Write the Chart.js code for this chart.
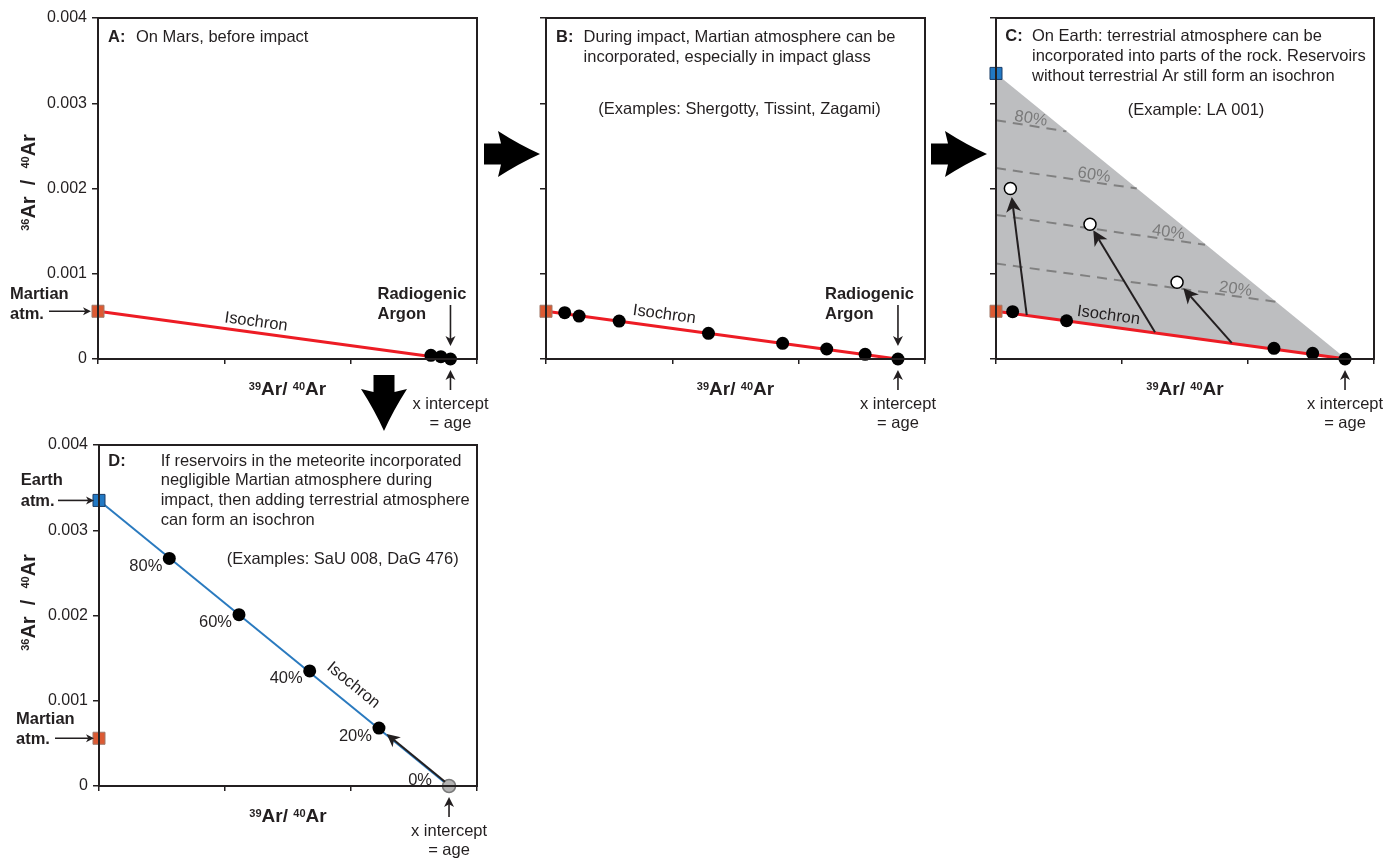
<!DOCTYPE html>
<html>
<head>
<meta charset="utf-8">
<title>Ar isochron panels</title>
<script src="https://cdn.jsdelivr.net/npm/chart.js@4.4.1/dist/chart.umd.min.js"></script>
<style>
  html, body { margin: 0; padding: 0; background: #fff; }
  #page { position: relative; width: 1400px; height: 860px; }
  #page canvas { position: absolute; left: 0; top: 0; }
</style>
</head>
<body>
<div id="page">
  <canvas id="panelA" width="1400" height="860"></canvas>
  <canvas id="panelB" width="1400" height="860"></canvas>
  <canvas id="panelC" width="1400" height="860"></canvas>
  <canvas id="panelD" width="1400" height="860"></canvas>
</div>
<script>
// values (x = 39Ar/40Ar in arbitrary units, y = 36Ar/40Ar)
const yTicks = [0, 0.001, 0.002, 0.003, 0.004];
const xTicks = [0, 1, 2, 3];
const martianAtm = [0, 0.00056];
const earthAtm = [0, 0.00335];
const ageIntercept = [2.78, 0];

const ptsA_x = [2.635, 2.714, 2.79];
const ptsA_y = [0.000043, 0.000027, 0];

const ptsB_x = [0.148, 0.262, 0.579, 1.286, 1.873, 2.222, 2.526, 2.786];
const ptsB_y = [0.000543, 0.000504, 0.000445, 0.000301, 0.000184, 0.000117, 0.000055, 0];

const ptsC_x = [0.132, 0.56, 2.206, 2.513, 2.77];
const ptsC_y = [0.000555, 0.000449, 0.000125, 0.000067, 0];
const openC_x = [0.114, 0.746, 1.437];
const openC_y = [0.0020, 0.00158, 0.0009];
const shiftC_x0 = [0.244, 1.262, 1.871];
const shiftC_y0 = [0.000516, 0.000313, 0.00019];
const shiftC_x1 = [0.125, 0.772, 1.487];
const shiftC_y1 = [0.0019, 0.00151, 0.00083];

const mixLabels = ['80%', '60%', '40%', '20%'];
const mixLeftY = [0.00280, 0.00224, 0.00169, 0.00112];
const mixRightX = [0.558, 1.117, 1.659, 2.228];
const mixRightY = [0.00267, 0.00200, 0.00134, 0.00067];

const ptsD_x = [0.558, 1.111, 1.672, 2.222];
const ptsD_y = [0.00267, 0.00201, 0.00135, 0.00068];
const pctD = ['80%', '60%', '40%', '20%'];
const zeroD = [2.778, 0];
const shiftD_x = [2.746, 2.283];
const shiftD_y = [0.00005, 0.00061];

// ---- styling / helpers ----
const INK = '#231f20';
const RED = '#ed1c24';
const BLUE = '#2a7abf';
const MARS = '#dc5a33';
const EARTH = '#2279c4';
const FONT = '"Liberation Sans", Arial, Helvetica, sans-serif';
Chart.defaults.font.family = FONT;
Chart.defaults.color = INK;

const pt = (x, y) => ({ x, y });
const xy = (xs, ys) => xs.map((x, i) => pt(x, ys[i]));

function axes(showY) {
  const tickGrid = len => ({ display: true, drawOnChartArea: false, drawTicks: true, tickLength: len, color: INK, lineWidth: 1.5 });
  return {
    x: {
      type: 'linear', min: xTicks[0], max: xTicks[xTicks.length - 1],
      ticks: { stepSize: xTicks[1] - xTicks[0], display: false },
      grid: tickGrid(5), border: { display: true, color: INK, width: 2 },
      afterFit: s => { s.height = 20; }
    },
    y: {
      type: 'linear', min: yTicks[0], max: yTicks[yTicks.length - 1],
      ticks: {
        stepSize: yTicks[1] - yTicks[0], display: showY, padding: 5, color: INK, font: { size: 16 },
        callback: v => v === 0 ? '0' : v.toFixed(3)
      },
      grid: tickGrid(6), border: { display: true, color: INK, width: 2 },
      afterFit: s => { s.width = 60; }
    }
  };
}

function lineDs(p0, p1, color, width, dash) {
  return { data: [pt(p0[0], p0[1]), pt(p1[0], p1[1])], borderColor: color, borderWidth: width,
           borderDash: dash || [], pointRadius: 0, fill: false, tension: 0, clip: false };
}
function dotDs(xs, ys, fill, stroke, r, bw) {
  return { data: xy(xs, ys), showLine: false, pointRadius: r, pointBackgroundColor: fill,
           pointBorderColor: stroke, pointBorderWidth: bw, clip: false };
}
function squareDs(p, fill, stroke) {
  return { data: [pt(p[0], p[1])], showLine: false, pointStyle: 'rect', pointRadius: 8.5,
           pointBackgroundColor: fill, pointBorderColor: stroke, pointBorderWidth: 1, clip: false };
}

function label(ctx, s, x, y, o = {}) {
  ctx.save();
  ctx.font = (o.bold ? 'bold ' : '') + (o.size || 16.5) + 'px ' + FONT;
  ctx.fillStyle = o.color || INK;
  ctx.textAlign = o.align || 'left';
  ctx.textBaseline = 'middle';
  ctx.translate(x, y);
  if (o.rot) ctx.rotate(o.rot);
  ctx.fillText(s, 0, 0);
  ctx.restore();
}
function lines(ctx, arr, x, y, step, o) {
  arr.forEach((s, i) => label(ctx, s, x, y + i * step, o));
}
function arrow(ctx, x0, y0, x1, y1, head, lw) {
  const a = Math.atan2(y1 - y0, x1 - x0);
  ctx.save();
  ctx.strokeStyle = INK; ctx.fillStyle = INK; ctx.lineWidth = lw;
  ctx.beginPath();
  ctx.moveTo(x0, y0);
  ctx.lineTo(x1 - Math.cos(a) * head * 0.7, y1 - Math.sin(a) * head * 0.7);
  ctx.stroke();
  ctx.translate(x1, y1); ctx.rotate(a);
  ctx.beginPath();
  ctx.moveTo(0, 0); ctx.lineTo(-head, -head * 0.5); ctx.lineTo(-head * 0.72, 0); ctx.lineTo(-head, head * 0.5);
  ctx.closePath(); ctx.fill();
  ctx.restore();
}
function bigArrow(ctx, x, y, ang) {
  ctx.save();
  ctx.translate(x, y); ctx.rotate(ang);
  ctx.fillStyle = '#000';
  ctx.beginPath();
  ctx.moveTo(0, 0);
  ctx.quadraticCurveTo(-21, -9.5, -42, -23);
  ctx.lineTo(-39, -10.5);
  ctx.lineTo(-56, -10.5);
  ctx.lineTo(-56, 10.5);
  ctx.lineTo(-39, 10.5);
  ctx.lineTo(-42, 23);
  ctx.quadraticCurveTo(-21, 9.5, 0, 0);
  ctx.fill();
  ctx.restore();
}
function frame(ctx, a) {
  ctx.save();
  ctx.strokeStyle = INK; ctx.lineWidth = 2;
  ctx.strokeRect(a.left, a.top, a.right - a.left, a.bottom - a.top);
  ctx.restore();
}
function supText(ctx, parts, x, y, big, small, rise) {
  const f = p => 'bold ' + (p[1] ? small : big) + 'px ' + FONT;
  let w = 0;
  parts.forEach(p => { ctx.font = f(p); w += ctx.measureText(p[0]).width; });
  let cx = x - w / 2;
  ctx.textAlign = 'left'; ctx.textBaseline = 'alphabetic'; ctx.fillStyle = INK;
  parts.forEach(p => {
    ctx.font = f(p);
    ctx.fillText(p[0], cx, p[1] ? y - rise : y);
    cx += ctx.measureText(p[0]).width;
  });
}
function xTitle(ctx, a) {
  ctx.save();
  supText(ctx, [['39', 1], ['Ar', 0], ['/ ', 0], ['40', 1], ['Ar', 0]], (a.left + a.right) / 2, a.bottom + 36, 19, 11, 5.5);
  ctx.restore();
}
function yTitle(ctx, a, dy) {
  ctx.save();
  ctx.translate(35, (a.top + a.bottom) / 2 + dy);
  ctx.rotate(-Math.PI / 2);
  supText(ctx, [['36', 1], ['Ar', 0], ['  /  ', 0], ['40', 1], ['Ar', 0]], 0, 0, 20, 11, 6);
  ctx.restore();
}
function scalers(c) {
  return [v => c.scales.x.getPixelForValue(v), v => c.scales.y.getPixelForValue(v)];
}
function alongLabel(ctx, c, p0, p1, f, off, s, o) {
  const [X, Y] = scalers(c);
  const x0 = X(p0[0]), y0 = Y(p0[1]), x1 = X(p1[0]), y1 = Y(p1[1]);
  const a = Math.atan2(y1 - y0, x1 - x0);
  label(ctx, s, x0 + (x1 - x0) * f + Math.sin(a) * off, y0 + (y1 - y0) * f - Math.cos(a) * off,
        Object.assign({ align: 'center', rot: a }, o || {}));
}
function radiogenicNote(ctx, x, b) {
  lines(ctx, ['Radiogenic', 'Argon'], x - 73, b - 65, 20, { bold: true });
  arrow(ctx, x, b - 54, x, b - 13, 10, 1.6);
}
function interceptNote(ctx, x, b) {
  arrow(ctx, x, b + 31, x, b + 11, 10, 1.6);
  lines(ctx, ['x intercept', '= age'], x, b + 45, 19.5, { align: 'center' });
}

function panel(id, area, showY, datasets, deco) {
  return new Chart(document.getElementById(id), {
    type: 'line',
    data: { datasets },
    options: {
      responsive: false, animation: false, events: [],
      layout: { padding: { left: area.l - 60, top: area.t, right: 1400 - area.r, bottom: 860 - area.b - 20 } },
      plugins: { legend: { display: false }, tooltip: { enabled: false } },
      scales: axes(showY)
    },
    plugins: [{ id: 'deco_' + id, afterDraw: c => deco(c, c.ctx) }]
  });
}

// ---- panel A ----
panel('panelA', { l: 98, t: 18, r: 477, b: 359 }, true, [
  dotDs(ptsA_x, ptsA_y, '#000', '#000', 6.5, 0),
  squareDs(martianAtm, MARS, '#a07868'),
  lineDs(martianAtm, ageIntercept, RED, 3)
], (c, ctx) => {
  const a = c.chartArea, [X, Y] = scalers(c);
  frame(ctx, a); xTitle(ctx, a); yTitle(ctx, a, -6);
  label(ctx, 'A:', a.left + 10, a.top + 19, { bold: true });
  label(ctx, 'On Mars, before impact', a.left + 38, a.top + 19);
  alongLabel(ctx, c, martianAtm, ageIntercept, 0.446, 10.7, 'Isochron');
  const ym = Y(martianAtm[1]);
  lines(ctx, ['Martian', 'atm.'], 10, ym - 17, 20, { bold: true });
  arrow(ctx, 49, ym, a.left - 7, ym, 8, 1.6);
  radiogenicNote(ctx, X(ptsA_x[2]), a.bottom);
  interceptNote(ctx, X(ptsA_x[2]), a.bottom);
  bigArrow(ctx, 540, 154, 0);
  bigArrow(ctx, 987, 154, 0);
  bigArrow(ctx, 384, 431, Math.PI / 2);
});

// ---- panel B ----
panel('panelB', { l: 546, t: 18, r: 925, b: 359 }, false, [
  dotDs(ptsB_x, ptsB_y, '#000', '#000', 6.5, 0),
  squareDs(martianAtm, MARS, '#a07868'),
  lineDs(martianAtm, ageIntercept, RED, 3)
], (c, ctx) => {
  const a = c.chartArea, [X] = scalers(c);
  frame(ctx, a); xTitle(ctx, a);
  label(ctx, 'B:', a.left + 10, a.top + 19.7, { bold: true });
  lines(ctx, ['During impact, Martian atmosphere can be', 'incorporated, especially in impact glass'],
        a.left + 37.6, a.top + 19.7, 20);
  label(ctx, '(Examples: Shergotty, Tissint, Zagami)', (a.left + a.right) / 2 + 4, a.top + 91.5, { align: 'center' });
  alongLabel(ctx, c, martianAtm, ageIntercept, 0.332, 12.7, 'Isochron');
  radiogenicNote(ctx, X(ptsB_x[7]), a.bottom);
  interceptNote(ctx, X(ptsB_x[7]), a.bottom);
});

// ---- panel C ----
const mixSets = mixLabels.map((s, i) =>
  lineDs([0, mixLeftY[i]], [mixRightX[i], mixRightY[i]], '#808080', 2, [10, 7]));
panel('panelC', { l: 996, t: 18, r: 1374, b: 359 }, false, [
  dotDs(openC_x, openC_y, '#fff', '#000', 6, 1.5),
  dotDs(ptsC_x, ptsC_y, '#000', '#000', 6.5, 0),
  squareDs(earthAtm, EARTH, '#1b3d66'),
  squareDs(martianAtm, MARS, '#a07868'),
  lineDs(martianAtm, ageIntercept, RED, 3),
  ...mixSets,
  { data: [martianAtm, earthAtm, ageIntercept, martianAtm].map(p => pt(p[0], p[1])),
    fill: 'shape', backgroundColor: '#bdbec0', borderColor: 'rgba(0,0,0,0)', borderWidth: 0, pointRadius: 0, tension: 0 }
], (c, ctx) => {
  const a = c.chartArea, [X, Y] = scalers(c);
  frame(ctx, a); xTitle(ctx, a);
  label(ctx, 'C:', a.left + 9.3, a.top + 18.5, { bold: true });
  lines(ctx, ['On Earth: terrestrial atmosphere can be', 'incorporated into parts of the rock. Reservoirs',
              'without terrestrial Ar still form an isochron'], a.left + 36, a.top + 18.5, 20.2);
  label(ctx, '(Example: LA 001)', (a.left + a.right) / 2 + 11, a.top + 92.5, { align: 'center' });
  const frac = [0.48, 0.69, 0.82, 0.85];
  mixLabels.forEach((s, i) =>
    alongLabel(ctx, c, [0, mixLeftY[i]], [mixRightX[i], mixRightY[i]], frac[i], 7, s, { color: '#7a7a7a' }));
  shiftC_x0.forEach((x0, i) =>
    arrow(ctx, X(x0), Y(shiftC_y0[i]), X(shiftC_x1[i]), Y(shiftC_y1[i]), 15, 2));
  alongLabel(ctx, c, martianAtm, ageIntercept, 0.317, 11, 'Isochron');
  interceptNote(ctx, X(ptsC_x[4]), a.bottom);
});

// ---- panel D ----
panel('panelD', { l: 99, t: 445, r: 477, b: 786 }, true, [
  dotDs(ptsD_x, ptsD_y, '#000', '#000', 6.5, 0),
  dotDs([zeroD[0]], [zeroD[1]], '#b4b4b4', '#7a7a7a', 6.5, 1.5),
  squareDs(earthAtm, EARTH, '#1b3d66'),
  squareDs(martianAtm, MARS, '#a07868'),
  lineDs(earthAtm, zeroD, BLUE, 2)
], (c, ctx) => {
  const a = c.chartArea, [X, Y] = scalers(c);
  frame(ctx, a); xTitle(ctx, a); yTitle(ctx, a, -13);
  label(ctx, 'D:', a.left + 9.3, a.top + 16, { bold: true });
  lines(ctx, ['If reservoirs in the meteorite incorporated', 'negligible Martian atmosphere during',
              'impact, then adding terrestrial atmosphere', 'can form an isochron'], a.left + 61.7, a.top + 16, 19.9);
  label(ctx, '(Examples: SaU 008, DaG 476)', (a.left + a.right) / 2 + 54.7, a.top + 114.3, { align: 'center' });
  pctD.forEach((s, i) => label(ctx, s, X(ptsD_x[i]) - 7, Y(ptsD_y[i]) + 8, { align: 'right' }));
  label(ctx, '0%', X(zeroD[0]) - 17, Y(zeroD[1]) - 6, { align: 'right' });
  arrow(ctx, X(shiftD_x[0]), Y(shiftD_y[0]), X(shiftD_x[1]), Y(shiftD_y[1]), 13, 2);
  alongLabel(ctx, c, earthAtm, zeroD, 0.695, 17.5, 'Isochron');
  const ye = Y(earthAtm[1]), ym = Y(martianAtm[1]);
  lines(ctx, ['Earth', 'atm.'], 20.7, ye - 20, 21.4, { bold: true });
  arrow(ctx, 58, ye, a.left - 5, ye, 8, 1.6);
  lines(ctx, ['Martian', 'atm.'], 16, ym - 19.3, 20.3, { bold: true });
  arrow(ctx, 55, ym, a.left - 5, ym, 8, 1.6);
  interceptNote(ctx, X(zeroD[0]), a.bottom);
});
</script>
</body>
</html>
